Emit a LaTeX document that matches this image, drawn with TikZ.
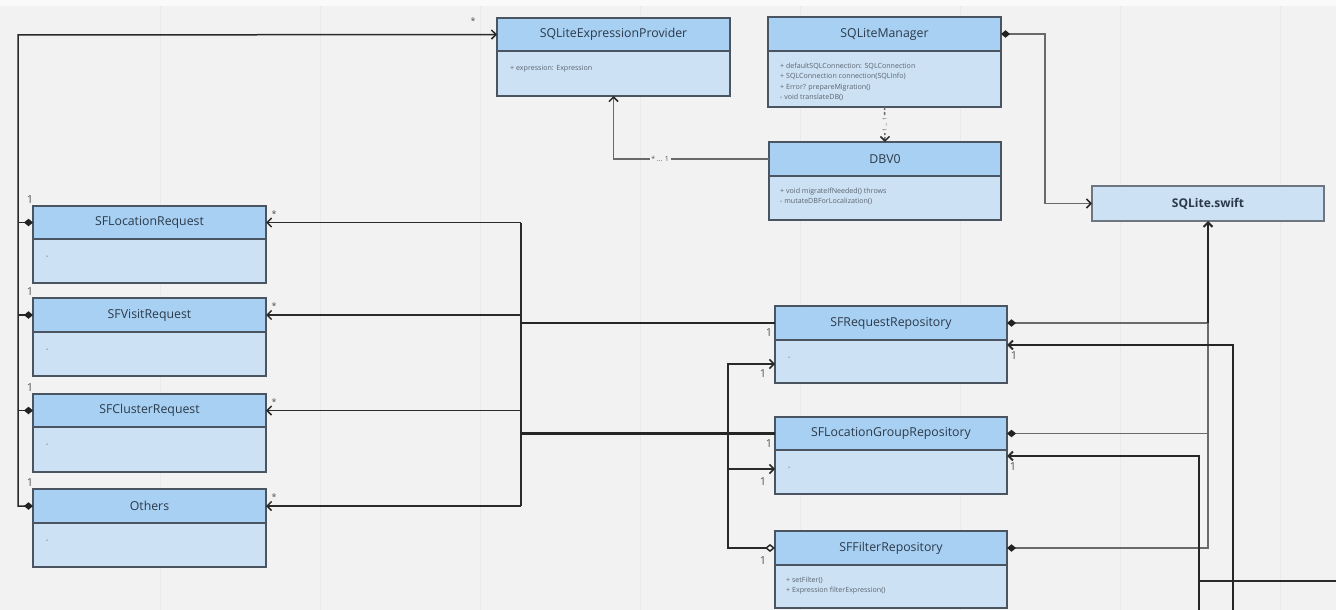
\documentclass[tikz,border=0pt]{standalone}
\usepackage{fontspec}
\setmainfont{Open Sans}
\usetikzlibrary{arrows.meta,calc}
\definecolor{canvas}{HTML}{F2F2F2}
\definecolor{gridc}{HTML}{EAEAEA}
\definecolor{hdrfill}{HTML}{A8D0F2}
\definecolor{bdyfill}{HTML}{CCE1F4}
\definecolor{boxline}{HTML}{4A5561}
\definecolor{titlec}{HTML}{2B3A4A}
\definecolor{membc}{HTML}{5A6470}
\definecolor{wire}{HTML}{2A2A2A}
\definecolor{softwire}{HTML}{6A6A6A}
\definecolor{multc}{HTML}{555555}

% one UML class: header node (#1) and body node (#1b)
\newcommand{\umlbox}[7]{%
  \node[hdr, minimum width=#4pt, minimum height=#5pt] (#1) at (#2,#3) {#7};
  \node[bdy, minimum width=#4pt, minimum height=#6pt, anchor=north west] (#1b) at (#1.south west) {};
}

\begin{document}
\begin{tikzpicture}[x=1pt,y=-1pt,
  hdr/.style={draw=boxline, line width=1.2pt, fill=hdrfill, anchor=north west,
    inner sep=0pt, outer sep=0pt, text=titlec, font=\fontsize{12.3}{14}\selectfont},
  bdy/.style={draw=boxline, line width=1.2pt, fill=bdyfill, inner sep=0pt, outer sep=0pt},
  libbox/.style={draw=boxline!80, line width=1.1pt, fill=bdyfill, anchor=north west,
    inner sep=0pt, outer sep=0pt, text=titlec, font=\fontsize{12}{14}\selectfont\bfseries},
  memb/.style={text=membc, font=\fontsize{7.1}{10.3}\selectfont, inner sep=0pt, align=left},
  mult/.style={text=multc, font=\fontsize{11}{12}\selectfont, inner sep=0pt},
  star/.style={text=multc, font=\fontsize{9}{10}\selectfont, inner sep=0pt},
  wireln/.style={draw=wire, line width=1.5pt},
  boldln/.style={draw=wire!90!black, line width=2.2pt},
  softln/.style={draw=softwire, line width=1.5pt},
  openarr/.style={-{Straight Barb[length=4.5pt,width=9pt,color=wire]}},
  compo/.style={{Diamond[length=9pt,width=7.5pt,color=wire!80!black]}-},
  compoarr/.style={{Diamond[length=9pt,width=7.5pt,color=wire!80!black]}-{Straight Barb[length=4.5pt,width=9pt,color=wire]}},
  aggrarr/.style={{Diamond[open,length=10pt,width=8pt,fill=white]}-{Straight Barb[length=4.5pt,width=9pt]}},
]
\fill[canvas] (0,0) rectangle (1336,610);
\fill[white!60!canvas] (0,0) rectangle (1336,6);
\useasboundingbox (0,0) rectangle (1336,610);
% faint canvas grid
\foreach \gx in {160,320,480,640,800,960,1120,1280}
  \draw[gridc, line width=0.5pt] (\gx,6) -- (\gx,610);

% ---- classes ----
\umlbox{sep}{497}{18}{233}{33}{45}{SQLiteExpressionProvider}
\umlbox{sqm}{768}{17}{233}{34}{56}{SQLiteManager}
\umlbox{dbv}{769}{142}{232}{34}{44}{DBV0}
\node[libbox, minimum width=232pt, minimum height=35pt] (lib) at (1092,186) {SQLite.swift};

\umlbox{locreq}{33}{206}{233}{33}{44}{SFLocationRequest}
\umlbox{visreq}{33}{298}{233}{34}{44}{SFVisitRequest}
\umlbox{clureq}{33}{394}{233}{33}{45}{SFClusterRequest}
\umlbox{othreq}{33}{489}{233}{34}{44}{Others}

\umlbox{reqrepo}{775}{306}{232}{34}{43}{SFRequestRepository}
\umlbox{lgrepo}{775}{417}{232}{33}{44}{SFLocationGroupRepository}
\umlbox{filrepo}{775}{531}{232}{34}{43}{SFFilterRepository}

% ---- members ----
\node[memb, anchor=west] at ([shift={(13,18)}]sepb.north west) {+ expression: Expression};
\node[memb, anchor=north west] at ([shift={(12,12)}]sqmb.north west)
  {+ defaultSQLConnection: SQLConnection\\+ SQLConnection connection(SQLInfo)\\+ Error? prepareMigration()\\- void translateDB()};
\node[memb, anchor=north west, font=\fontsize{7.1}{9.5}\selectfont] at ([shift={(11,12)}]dbvb.north west)
  {+ void migrateIfNeeded() throws\\- mutateDBForLocalization()};
\node[memb, anchor=north west] at ([shift={(11,12)}]filrepob.north west)
  {+ setFilter()\\+ Expression filterExpression()};
\foreach \b in {locreqb,visreqb,clureqb,othreqb,reqrepob,lgrepob}
  \node[memb, anchor=west] at ([shift={(13,18)}]\b.north west) {-};

% ---- left bus: requests composed, provider referenced ----
\coordinate (lbus) at (18,35);
\draw[wireln, compoarr] (othreq.west) -| (lbus) -- (sep.west);
\foreach \n in {locreq,visreq,clureq}
  \draw[wireln, compo] (\n.west) -- (\n.west -| lbus);
\node[star] at ([shift={(-24,-13)}]sep.west) {*};
\foreach \n in {locreq,visreq,clureq,othreq}{
  \node[mult] at ([shift={(-3,-6)}]\n.north west) {1};
  \node[star] at ([shift={(8,8)}]\n.north east) {*};
}

% ---- request bus toward the repositories ----
\coordinate (rbus) at (521,223);
\draw[wireln] (locreq.east -| rbus) -- (othreq.east -| rbus);
\foreach \n in {locreq,visreq,clureq,othreq}
  \draw[wireln, openarr] (\n.east -| rbus) -- (\n.east);
\draw[boldln] (reqrepo.west -| rbus) -- (reqrepo.west);
\draw[boldln] (lgrepo.west -| rbus) -- (lgrepo.west);
\node[mult] at ([shift={(-6,10)}]reqrepo.west) {1};
\node[mult] at ([shift={(-6,10)}]lgrepo.west) {1};

% ---- filter repository aggregated by the other repositories ----
\coordinate (fbus) at (728,364);
\coordinate (fbus2) at (728,469);
\draw[wireln, aggrarr] (filrepo.west) -| (fbus) -- (fbus -| reqrepo.west);
\draw[wireln, openarr] (fbus2) -- (fbus2 -| lgrepo.west);
\node[mult] at ([shift={(-12,10)}]fbus -| reqrepo.west) {1};
\node[mult] at ([shift={(-12,13)}]fbus2 -| lgrepo.west) {1};
\node[mult] at ([shift={(-12,13)}]filrepo.west) {1};

% ---- SQLite core ----
\draw[softln, openarr] (dbv.west) -| (sepb.south)
  node[pos=0.35, fill=canvas, inner sep=1.5pt, text=multc, font=\fontsize{7}{8}\selectfont] {* ... 1};
\draw[softln, dash pattern=on 3pt off 2pt, openarr] (sqmb.south) -- (dbv.north)
  node[midway, fill=canvas, inner sep=1pt, text=multc, rotate=90, font=\fontsize{5.5}{6}\selectfont] {1 ... 1};
\coordinate (mbend) at (1045,100);
\draw[softln, compoarr] (sqm.east) -| (mbend) |- (lib.west);

\coordinate (libtap) at (reqrepo.east -| lib.south);
\draw[softln, compo] (reqrepo.east) -- (libtap);
\draw[softln, compo] (lgrepo.east) -| (libtap);
\draw[softln, compo] (filrepo.east) -| (libtap);
\draw[boldln, line width=2pt, openarr] (libtap) -- (lib.south);

% ---- incoming links from further right ----
\coordinate (ra) at (1233,610);
\coordinate (rat) at (1233,345);
\coordinate (rb) at (1199,610);
\coordinate (rbt) at (1199,456);
\coordinate (rc) at (1199,581);
\coordinate (rce) at (1336,581);
\draw[boldln, line width=2pt, openarr] (ra) -- (rat) -- (rat -| reqrepo.east);
\draw[boldln, line width=2pt, openarr] (rb) -- (rbt) -- (rbt -| lgrepo.east);
\draw[wireln, line width=1.6pt] (rc) -- (rce);
\node[mult] at ([shift={(7,11)}]rat -| reqrepo.east) {1};
\node[mult] at ([shift={(6,11)}]rbt -| lgrepo.east) {1};
\end{tikzpicture}
\end{document}
